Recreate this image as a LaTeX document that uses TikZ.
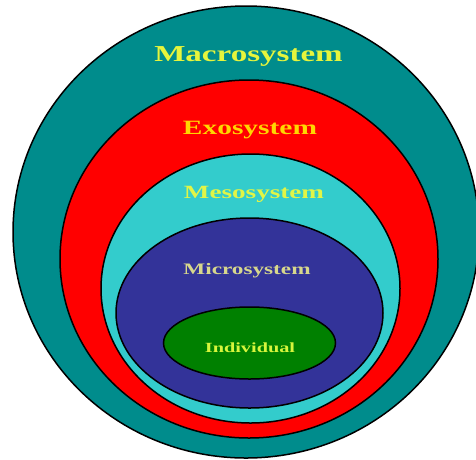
\documentclass[tikz,border=0pt]{standalone}
\usepackage{fontspec}
\setmainfont{Liberation Serif}
\definecolor{macroc}{RGB}{0,140,140}
\definecolor{exoc}{RGB}{255,0,0}
\definecolor{mesoc}{RGB}{51,204,204}
\definecolor{microc}{RGB}{51,51,153}
\definecolor{indc}{RGB}{0,128,0}
\definecolor{tmacro}{RGB}{230,245,60}
\definecolor{texo}{RGB}{255,215,0}
\definecolor{tmeso}{RGB}{225,245,70}
\definecolor{tmicro}{RGB}{215,215,140}
\definecolor{tind}{RGB}{215,245,60}
\newcommand{\widetxt}[1]{\scalebox{1.45}[1]{#1}}
\tikzset{
  ring/.style={draw=black, line width=1.5pt},
  lbl/.style={anchor=base, inner sep=0pt, font=\bfseries}
}
\begin{document}
\begin{tikzpicture}[x=1pt,y=-1pt]
\useasboundingbox (0,0) rectangle (476,459);
\clip (0,0) rectangle (476,459);
\fill[white] (0,0) rectangle (476,459);
\draw[ring, fill=macroc] (246,232) ellipse [x radius=233, y radius=226];
\draw[ring, fill=exoc] (249,259) ellipse [x radius=189, y radius=179];
\draw[ring, fill=mesoc] (250.5,288.5) ellipse [x radius=149.5, y radius=134.5];
\draw[ring, fill=microc] (249.5,313) ellipse [x radius=133.5, y radius=95];
\draw[ring, fill=indc] (249.5,343) ellipse [x radius=86, y radius=36];
\node[lbl, text=tmacro, font=\bfseries\fontsize{22.8}{24}\selectfont] (macro) at (248.5,61.7) {\widetxt{Macrosystem}};
\node[lbl, text=texo, font=\bfseries\fontsize{20.3}{22}\selectfont] (exo) at (250,134) {\widetxt{Exosystem}};
\node[lbl, text=tmeso, font=\bfseries\fontsize{18.7}{20}\selectfont] (meso) at (254,198.3) {\widetxt{Mesosystem}};
\node[lbl, text=tmicro, font=\bfseries\fontsize{16}{18}\selectfont] (micro) at (247,274) {\widetxt{Microsystem}};
\node[lbl, text=tind, font=\bfseries\fontsize{14}{16}\selectfont] (ind) at (250,352.3) {\widetxt{Individual}};
\end{tikzpicture}
\end{document}
